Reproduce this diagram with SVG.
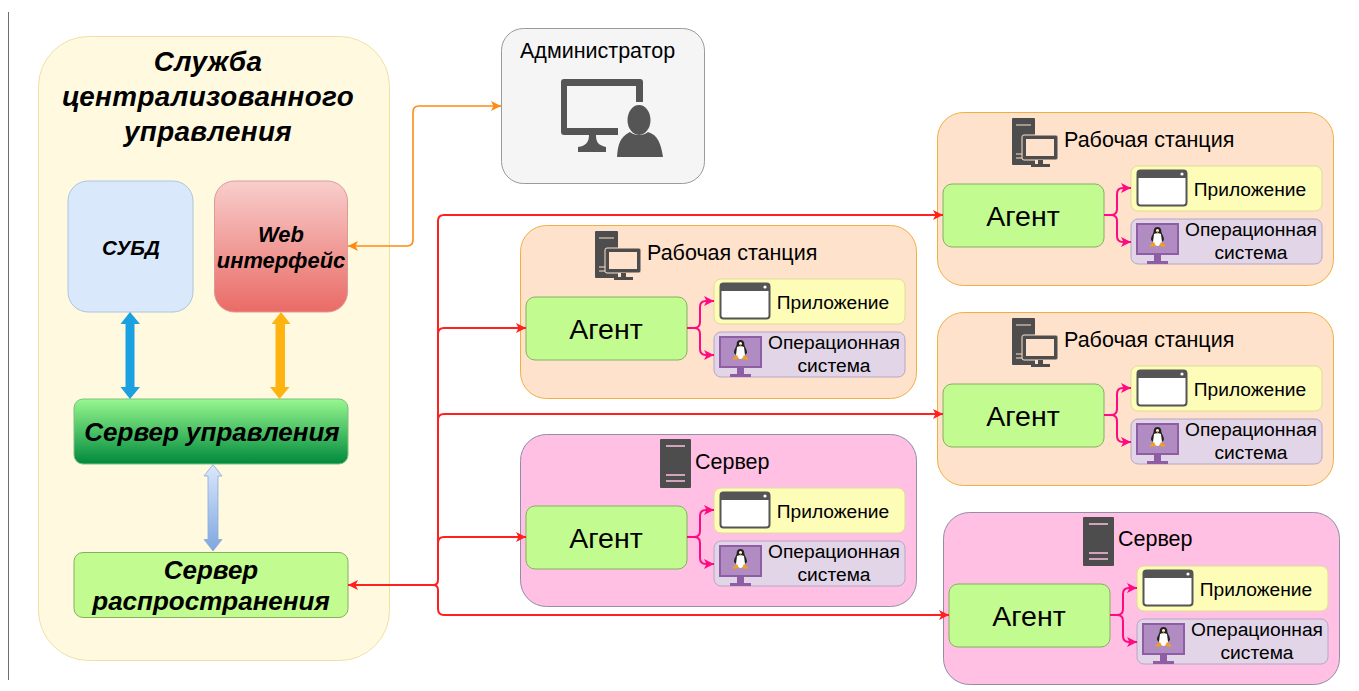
<svg xmlns="http://www.w3.org/2000/svg" width="1359" height="691" viewBox="0 0 1359 691">
<style>
text{font-family:"Liberation Sans",Arial,sans-serif;fill:#000;text-anchor:middle}
.bi{font-weight:700;font-style:italic}
.title{font-size:27.800px;letter-spacing:.4px}
.h{font-size:21.500px;text-anchor:start}
.ag{font-size:28.500px}
.s{font-size:19.200px}
.ws{fill:#ffe2cb;stroke:#f0b040;stroke-width:1}
.srv{fill:#ffc0e3;stroke:#8e8ea6;stroke-width:1}
.agent{fill:#c2fb90;stroke:#84b060;stroke-width:1}
.app{fill:#fdfdb8;stroke:#dedc98;stroke-width:1}
.os{fill:#e1d5e7;stroke:#b6a6c4;stroke-width:1}
.red{fill:none;stroke:#ff2020;stroke-width:2}
.pink{fill:none;stroke:#ff0a80;stroke-width:2}
.org{fill:none;stroke:#ff8a10;stroke-width:1.600}
</style>
<defs>
<linearGradient id="gRed" x1="0" y1="0" x2="0" y2="1"><stop offset="0" stop-color="#f8cecc"/><stop offset="1" stop-color="#ea6b66"/></linearGradient>
<linearGradient id="gGreen" x1="0" y1="0" x2="0" y2="1"><stop offset="0" stop-color="#97f78f"/><stop offset="1" stop-color="#008a3c"/></linearGradient>
<linearGradient id="gBlue" x1="0" y1="0" x2="0" y2="1"><stop offset="0" stop-color="#dae8fc"/><stop offset="1" stop-color="#7ea6e0"/></linearGradient>
<marker id="mRed" markerUnits="userSpaceOnUse" markerWidth="11" markerHeight="10" refX="10" refY="5" orient="auto"><path d="M0 0L10 5L0 10L2.500 5z" fill="#ff2020"/></marker>
<marker id="mPink" markerUnits="userSpaceOnUse" markerWidth="11" markerHeight="10" refX="10" refY="5" orient="auto"><path d="M0 0L10 5L0 10L2.500 5z" fill="#ff0a80"/></marker>
<marker id="mOrg" markerUnits="userSpaceOnUse" markerWidth="11" markerHeight="10" refX="10" refY="5" orient="auto"><path d="M0 0L10 5L0 10L2.500 5z" fill="#ff8a10"/></marker>
<g id="icoWs">
<rect x="0" y="0" width="23" height="47" rx="1" fill="#4d4d4d"/>
<path d="M4 7H19M4 36H10M4 40H10" stroke="#ffe2cb" stroke-width="1.200"/>
<rect x="10" y="17" width="36" height="25" rx="2" fill="#4d4d4d" stroke="#ffe2cb" stroke-width="1"/>
<rect x="14" y="21" width="28" height="17" fill="#ffe2cb"/>
<path d="M26 42h5v4h7v3H19v-3h7z" fill="#4d4d4d"/>
</g>
<g id="icoSrv">
<rect x="0" y="0" width="31" height="49" rx="1" fill="#4d4d4d"/>
<path d="M6 7H25M6 36H25M6 42H25" stroke="#ffc0e3" stroke-width="1.400"/>
</g>
<g id="icoApp">
<rect x="0.500" y="0.500" width="49" height="35" rx="3" fill="#fff" stroke="#555" stroke-width="2"/>
<path d="M0 3a3 3 0 0 1 3-3H47a3 3 0 0 1 3 3V8H0z" fill="#555"/>
<circle cx="45" cy="4" r="1.600" fill="#fff"/>
</g>
<g id="icoOs">
<rect x="0" y="0" width="43" height="32" fill="#8e5da3"/>
<rect x="2" y="2" width="39" height="28" fill="#b08cc2"/>
<path d="M18 32h7v6h7v3H11v-3h7z" fill="#8e5da3"/>
<ellipse cx="21.500" cy="16" rx="5" ry="7" fill="#fff"/>
<path d="M21.500 4c-2.800 0-3.800 2-3.800 4c0 3-2.700 4.500-2.700 9l2 2l1-8c1-1 6-1 7 0l1 8l2-2c0-4.500-2.700-6-2.700-9c0-2-1-4-3.800-4z" fill="#222"/>
<circle cx="21.500" cy="7.500" r="1.500" fill="#fff"/>
<path d="M14 22l4-3l2 4l-6 1zM29 22l-4-3l-2 4l6 1zM20 8h3l-1.500 2z" fill="#f0a020"/>
</g>
</defs>
<rect width="1359" height="691" fill="#fff"/>
<path d="M8.500 12V680" stroke="#6e6e6e" stroke-width="1"/>

<g id="central-service">
<rect x="38.500" y="36.500" width="351" height="624" rx="50" fill="#fff9e0" stroke="#efe0a8"/>
<text class="bi title" x="208" y="71">Служба</text>
<text class="bi title" x="208" y="106">централизованного</text>
<text class="bi title" x="208" y="141">управления</text>
</g>
<g id="dbms">
<rect x="68" y="181" width="125" height="131" rx="20" fill="#dae8fc" stroke="#aec4e0"/>
<text class="bi" font-size="20.700" x="131" y="255">СУБД</text>
</g>
<g id="web">
<rect x="214.500" y="181" width="133" height="131" rx="20" fill="url(#gRed)" stroke="#dd9a98"/>
<text class="bi" font-size="21.900" x="281" y="242">Web</text>
<text class="bi" font-size="21.900" x="281" y="268">интерфейс</text>
</g>
<g id="mgmt-server">
<rect x="74" y="399" width="274" height="65" rx="9" fill="url(#gGreen)" stroke="#7fc07f"/>
<text class="bi" font-size="26" x="212" y="441">Сервер управления</text>
</g>
<g id="dist-server">
<rect x="74" y="552.500" width="274" height="65" rx="9" fill="#c2fb90" stroke="#84b060"/>
<text class="bi" font-size="26" x="211" y="579">Сервер</text>
<text class="bi" font-size="26" x="211" y="610">распространения</text>
</g>
<g id="admin">
<rect x="501.500" y="28.500" width="203" height="155" rx="22" fill="#f5f5f5" stroke="#9a9a9a"/>
<text class="h" x="520" y="58">Администратор</text>
<path d="M561 82a3 3 0 0 1 3-3H640a3 3 0 0 1 3 3V102H636V86H567V128H618V135H596C596 142 598 145 606 147V152H578V147C586 146 589 142 589 135H564a3 3 0 0 1-3-3z" fill="#555"/>
<ellipse cx="639" cy="120" rx="11.500" ry="15" fill="#555"/>
<path d="M617 157C618 144 620 137 630 132C634 136 644 136 648 132C658 135 661 144 663 157z" fill="#555"/>
</g>

<g id="ws-1">
<rect class="ws" x="520.500" y="225.500" width="396" height="173" rx="26"/>
<use href="#icoWs" x="595" y="231"/>
<text class="h" x="647" y="260">Рабочая станция</text>
<rect class="agent" x="526" y="297" width="161" height="63" rx="9"/>
<text class="ag" x="606" y="339">Агент</text>
<rect class="app" x="714" y="279" width="191" height="45" rx="7"/>
<use href="#icoApp" x="720" y="283"/>
<text class="s" x="833" y="309">Приложение</text>
<rect class="os" x="714" y="332" width="191" height="45" rx="7"/>
<use href="#icoOs" x="719" y="336"/>
<text class="s" x="834" y="349">Операционная</text>
<text class="s" x="834" y="372">система</text>
<path class="pink" d="M687 328H694Q700 328 700 322V307Q700 301 706 301H714" marker-end="url(#mPink)"/>
<path class="pink" d="M694 328Q700 328 700 334V349Q700 355 706 355H714" marker-end="url(#mPink)"/>
</g>

<g id="ws-2">
<rect class="ws" x="937.500" y="112.500" width="396" height="173" rx="26"/>
<use href="#icoWs" x="1012" y="118"/>
<text class="h" x="1064" y="147">Рабочая станция</text>
<rect class="agent" x="943" y="184" width="161" height="63" rx="9"/>
<text class="ag" x="1023" y="226">Агент</text>
<rect class="app" x="1131" y="166" width="191" height="45" rx="7"/>
<use href="#icoApp" x="1137" y="170"/>
<text class="s" x="1250" y="196">Приложение</text>
<rect class="os" x="1131" y="219" width="191" height="45" rx="7"/>
<use href="#icoOs" x="1136" y="223"/>
<text class="s" x="1251" y="236">Операционная</text>
<text class="s" x="1251" y="259">система</text>
<path class="pink" d="M1104 215H1111Q1117 215 1117 209V194Q1117 188 1123 188H1131" marker-end="url(#mPink)"/>
<path class="pink" d="M1111 215Q1117 215 1117 221V236Q1117 242 1123 242H1131" marker-end="url(#mPink)"/>
</g>

<g id="ws-3">
<rect class="ws" x="937.500" y="312.500" width="396" height="173" rx="26"/>
<use href="#icoWs" x="1012" y="318"/>
<text class="h" x="1064" y="347">Рабочая станция</text>
<rect class="agent" x="943" y="384" width="161" height="63" rx="9"/>
<text class="ag" x="1023" y="426">Агент</text>
<rect class="app" x="1131" y="366" width="191" height="45" rx="7"/>
<use href="#icoApp" x="1137" y="370"/>
<text class="s" x="1250" y="396">Приложение</text>
<rect class="os" x="1131" y="419" width="191" height="45" rx="7"/>
<use href="#icoOs" x="1136" y="423"/>
<text class="s" x="1251" y="436">Операционная</text>
<text class="s" x="1251" y="459">система</text>
<path class="pink" d="M1104 415H1111Q1117 415 1117 409V394Q1117 388 1123 388H1131" marker-end="url(#mPink)"/>
<path class="pink" d="M1111 415Q1117 415 1117 421V436Q1117 442 1123 442H1131" marker-end="url(#mPink)"/>
</g>

<g id="srv-1">
<rect class="srv" x="520.500" y="434.500" width="396" height="172" rx="26"/>
<use href="#icoSrv" x="660" y="439"/>
<text class="h" x="695" y="469">Сервер</text>
<rect class="agent" x="526" y="506" width="161" height="63" rx="9"/>
<text class="ag" x="606" y="548">Агент</text>
<rect class="app" x="714" y="488" width="191" height="45" rx="7"/>
<use href="#icoApp" x="720" y="492"/>
<text class="s" x="833" y="518">Приложение</text>
<rect class="os" x="714" y="541" width="191" height="45" rx="7"/>
<use href="#icoOs" x="719" y="545"/>
<text class="s" x="834" y="558">Операционная</text>
<text class="s" x="834" y="581">система</text>
<path class="pink" d="M687 537H694Q700 537 700 531V516Q700 510 706 510H714" marker-end="url(#mPink)"/>
<path class="pink" d="M694 537Q700 537 700 543V558Q700 564 706 564H714" marker-end="url(#mPink)"/>
</g>

<g id="srv-2">
<rect class="srv" x="943.500" y="512.500" width="396" height="172" rx="26"/>
<use href="#icoSrv" x="1083" y="517"/>
<text class="h" x="1118" y="546">Сервер</text>
<rect class="agent" x="949" y="584" width="161" height="63" rx="9"/>
<text class="ag" x="1029" y="626">Агент</text>
<rect class="app" x="1137" y="566" width="191" height="45" rx="7"/>
<use href="#icoApp" x="1143" y="570"/>
<text class="s" x="1256" y="596">Приложение</text>
<rect class="os" x="1137" y="619" width="191" height="45" rx="7"/>
<use href="#icoOs" x="1142" y="623"/>
<text class="s" x="1257" y="636">Операционная</text>
<text class="s" x="1257" y="659">система</text>
<path class="pink" d="M1110 615H1117Q1123 615 1123 609V594Q1123 588 1129 588H1137" marker-end="url(#mPink)"/>
<path class="pink" d="M1117 615Q1123 615 1123 621V636Q1123 642 1129 642H1137" marker-end="url(#mPink)"/>
</g>

<g id="connectors">
<path class="org" d="M348 246H407Q413 246 413 240V112Q413 106 419 106H501" marker-end="url(#mOrg)"/>
<path d="M348 246l10-5l-2.500 5l2.500 5z" fill="#ff8a10"/>
<path class="red" d="M433 585H348" marker-end="url(#mRed)"/>
<path class="red" d="M433 585Q438 585 438 580V221Q438 215 444 215H943" marker-end="url(#mRed)"/>
<path class="red" d="M438 334Q438 328 444 328H526" marker-end="url(#mRed)"/>
<path class="red" d="M438 420Q438 414 444 414H943" marker-end="url(#mRed)"/>
<path class="red" d="M438 543Q438 537 444 537H526" marker-end="url(#mRed)"/>
<path class="red" d="M433 585Q438 585 438 590V609Q438 615 444 615H949" marker-end="url(#mRed)"/>
<path d="M130 312L140 324H134.500V387H140L130 399L120.500 387H125.500V324H120.500z" fill="#1ba1e2"/>
<path d="M281 312L290.500 324H285V387H289.500L279.500 399L270 387H275.500V324H271.500z" fill="#ffb310"/>
<path d="M213 464.500L222 476H218V539.500H222L213 551L204 539.500H208V476H204z" fill="url(#gBlue)" stroke="#8eaad8" stroke-width="0.800"/>
</g>
</svg>
